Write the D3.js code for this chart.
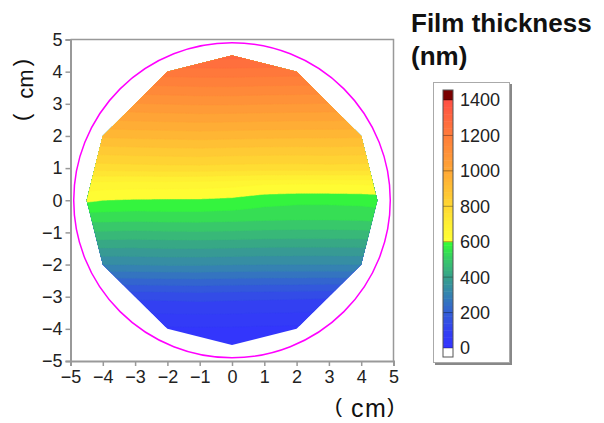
<!DOCTYPE html>
<html>
<head>
<meta charset="utf-8">
<script src="https://cdn.jsdelivr.net/npm/d3@7"></script>
<style>
  body { margin: 0; background: #fff; }
  text { font-family: "Liberation Sans", Arial, sans-serif; }
</style>
</head>
<body>
<div id="plot"></div>
<script>
var xCols = [-4.5, -4, -3, -2, -1, 0, 1, 2, 3, 4, 4.5];
var yRows = [4.5, 4, 3, 2, 1, 0.5, 0, -0.5, -1, -2, -3, -4, -4.5];
var thickness = [
  [1285, 1285, 1288, 1290, 1292, 1295, 1292, 1290, 1288, 1285, 1285],
  [1215, 1215, 1218, 1222, 1225, 1225, 1222, 1220, 1218, 1215, 1215],
  [1070, 1072, 1078, 1082, 1085, 1085, 1082, 1080, 1078, 1075, 1072],
  [925, 928, 932, 935, 938, 935, 932, 930, 930, 928, 925],
  [775, 778, 782, 785, 786, 782, 780, 780, 782, 780, 778],
  [665, 662, 660, 660, 658, 652, 642, 640, 640, 642, 645],
  [608, 600, 596, 595, 595, 590, 575, 570, 570, 572, 575],
  [545, 545, 542, 545, 545, 542, 538, 535, 535, 538, 542],
  [475, 475, 472, 475, 476, 474, 470, 468, 468, 470, 474],
  [318, 320, 322, 325, 325, 322, 320, 320, 320, 320, 318],
  [125, 128, 130, 132, 135, 132, 130, 128, 125, 125, 122],
  [30, 30, 32, 34, 35, 34, 32, 30, 30, 30, 30],
  [20, 20, 22, 24, 25, 24, 22, 20, 20, 20, 20]
];
// outline of the measured area (cm)
var outline = [
  [0, 4.5], [2, 4], [4, 2], [4.5, 0], [4, -2], [2, -4],
  [0, -4.5], [-2, -4], [-4, -2], [-4.5, 0], [-4, 2], [-2, 4]
];
var waferRadius = 4.9;
var axisTicks = [-5, -4, -3, -2, -1, 0, 1, 2, 3, 4, 5];
var legendTicks = [0, 200, 400, 600, 800, 1000, 1200, 1400];
var bandStep = 40;

function init() {
  var w = 604, h = 423;

  var svg = d3.select("#plot")
    .append("svg")
    .attr("width", w)
    .attr("height", h);

  var xScale = d3.scaleLinear().domain([-5, 5]).range([70.5, 393.5]);
  var yScale = d3.scaleLinear().domain([-5, 5]).range([361, 39.5]);

  // colour map, jumps from green to yellow at 600
  var color = d3.scaleLinear()
    .domain([0, 100, 200, 300, 400, 500, 599, 600, 700, 800, 1000, 1200, 1400])
    .range(["#3333ff", "#3340f2", "#335ed6", "#3582b2", "#37a08c", "#38c86a", "#33ff33",
            "#ffff33", "#fff033", "#ffd833", "#ffa835", "#ff7c3a", "#ff5045"])
    .clamp(true);

  // find segment index and fraction of v inside arr
  function lookup(arr, v) {
    for (var i = 0; i < arr.length - 1; i++) {
      var a = arr[i], b = arr[i + 1];
      if (v >= Math.min(a, b) && v <= Math.max(a, b)) return [i, (v - a) / (b - a)];
    }
    var asc = arr[0] < arr[arr.length - 1];
    if (asc) return v < arr[0] ? [0, 0] : [arr.length - 2, 1];
    return v > arr[0] ? [0, 0] : [arr.length - 2, 1];
  }
  function field(x, y) {
    var cx = lookup(xCols, x), cy = lookup(yRows, y);
    var i = cx[0], tx = cx[1], j = cy[0], ty = cy[1];
    var v00 = thickness[j][i], v01 = thickness[j][i + 1];
    var v10 = thickness[j + 1][i], v11 = thickness[j + 1][i + 1];
    var top = v00 + (v01 - v00) * tx, bot = v10 + (v11 - v10) * tx;
    return top + (bot - top) * ty;
  }

  // sample the table on a fine grid for contouring
  var step = 0.05, n = Math.round(10 / step) + 1;
  var values = new Array(n * n);
  for (var r = 0; r < n; r++) {
    for (var c = 0; c < n; c++) {
      values[r * n + c] = field(-5 + c * step, 5 - r * step);
    }
  }

  var thresholds = d3.range(0, 1400 + bandStep, bandStep);
  var contours = d3.contours().size([n, n]).thresholds(thresholds)(values);

  var proj = d3.geoTransform({
    point: function(px, py) {
      this.stream.point(xScale(-5 + (px - 0.5) * step), yScale(5 - (py - 0.5) * step));
    }
  });
  var path = d3.geoPath(proj);

  svg.append("clipPath")
    .attr("id", "area")
    .append("polygon")
    .attr("points", outline.map(function(d) {
      return xScale(d[0]) + "," + yScale(d[1]);
    }).join(" "));

  svg.append("g")
    .attr("clip-path", "url(#area)")
    .selectAll("path")
    .data(contours)
    .enter()
    .append("path")
    .attr("d", path)
    .attr("fill", function(d) { return color(d.value + bandStep / 2); })
    .attr("stroke", function(d) { return color(d.value + bandStep / 2); })
    .attr("stroke-width", 0.5);

  // wafer edge
  svg.append("ellipse")
    .attr("cx", xScale(0))
    .attr("cy", yScale(0))
    .attr("rx", xScale(waferRadius) - xScale(0))
    .attr("ry", yScale(0) - yScale(waferRadius))
    .attr("fill", "none")
    .attr("stroke", "#ff00ff")
    .attr("stroke-width", 1.5);

  // frame on top and right
  svg.append("path")
    .attr("d", "M" + xScale(-5) + "," + yScale(5) + "H" + xScale(5) + "V" + yScale(-5))
    .attr("fill", "none")
    .attr("stroke", "#999")
    .attr("stroke-width", 1.5);

  var xAxis = d3.axisBottom(xScale).tickValues(axisTicks).tickSize(5).tickPadding(4);
  var yAxis = d3.axisLeft(yScale).tickValues(axisTicks).tickSize(5).tickPadding(3);

  var gx = svg.append("g")
    .attr("transform", "translate(0," + yScale(-5) + ")")
    .call(xAxis);
  var gy = svg.append("g")
    .attr("transform", "translate(" + xScale(-5) + ",0)")
    .call(yAxis);
  [gx, gy].forEach(function(g) {
    g.select(".domain").attr("stroke", "#999").attr("stroke-width", 2);
    g.selectAll(".tick line").attr("stroke", "#999").attr("stroke-width", 1.5);
    g.selectAll(".tick text")
      .attr("fill", "#222")
      .style("font-size", "18px")
      .style("font-family", "'Liberation Sans', Arial, sans-serif");
  });

  // axis labels "( cm)"
  var xl = svg.append("text")
    .attr("x", 335)
    .attr("y", 417)
    .attr("fill", "#111");
  xl.append("tspan").attr("dy", -4).style("font-size", "21px").text("(");
  xl.append("tspan").attr("dx", 9).attr("dy", 4).style("font-size", "25px")
    .style("letter-spacing", "1.5px").text("cm");
  xl.append("tspan").attr("dx", 0).attr("dy", -4).style("font-size", "21px").text(")");

  var yl = svg.append("text")
    .attr("transform", "rotate(-90)")
    .attr("x", -121)
    .attr("y", 33)
    .attr("fill", "#111");
  yl.append("tspan").attr("dy", -4.5).style("font-size", "22px").text("(");
  yl.append("tspan").attr("dx", 15).attr("dy", 4.5).style("font-size", "22px").text("cm");
  yl.append("tspan").attr("dx", 3).attr("dy", -4.5).style("font-size", "22px").text(")");

  // legend title
  svg.append("text")
    .attr("x", 411)
    .attr("y", 32)
    .style("font-size", "26px")
    .style("font-weight", "bold")
    .attr("fill", "#111")
    .text("Film thickness");
  svg.append("text")
    .attr("x", 411)
    .attr("y", 65)
    .style("font-size", "26px")
    .style("font-weight", "bold")
    .attr("fill", "#111")
    .text("(nm)");

  // legend box
  svg.append("rect")
    .attr("x", 435).attr("y", 84).attr("width", 77).attr("height", 281)
    .attr("fill", "#888");
  svg.append("rect")
    .attr("x", 433.5).attr("y", 82.5).attr("width", 76).attr("height", 280)
    .attr("fill", "#fff")
    .attr("stroke", "#aaa");

  var cbScale = d3.scaleLinear().domain([0, 1400]).range([348, 100]);
  var cbX = 443, cbW = 10;
  var bands = d3.range(0, 1400, bandStep / 2);
  svg.append("g")
    .selectAll("rect")
    .data(bands)
    .enter()
    .append("rect")
    .attr("x", cbX)
    .attr("y", function(d) { return cbScale(d + bandStep / 2); })
    .attr("width", cbW)
    .attr("height", function(d) { return cbScale(d) - cbScale(d + bandStep / 2) + 0.5; })
    .attr("fill", function(d) { return color(d + bandStep / 4); });
  svg.append("rect")
    .attr("x", cbX).attr("y", cbScale(1400) - 10).attr("width", cbW).attr("height", 10)
    .attr("fill", "#7a0000");
  svg.append("rect")
    .attr("x", cbX).attr("y", cbScale(0)).attr("width", cbW).attr("height", 9)
    .attr("fill", "#fff");
  svg.append("g")
    .selectAll("line")
    .data(legendTicks)
    .enter()
    .append("line")
    .attr("x1", cbX).attr("x2", cbX + cbW)
    .attr("y1", function(d) { return cbScale(d); })
    .attr("y2", function(d) { return cbScale(d); })
    .attr("stroke", "rgba(0,0,0,0.35)");
  svg.append("rect")
    .attr("x", cbX).attr("y", cbScale(1400) - 10)
    .attr("width", cbW).attr("height", cbScale(0) - cbScale(1400) + 19)
    .attr("fill", "none")
    .attr("stroke", "#555");

  svg.append("g")
    .selectAll("text")
    .data(legendTicks)
    .enter()
    .append("text")
    .attr("x", 460)
    .attr("y", function(d) { return cbScale(d); })
    .attr("dy", "0.36em")
    .style("font-size", "18px")
    .attr("fill", "#222")
    .text(function(d) { return d; });
}

window.onload = init;
</script>
</body>
</html>
